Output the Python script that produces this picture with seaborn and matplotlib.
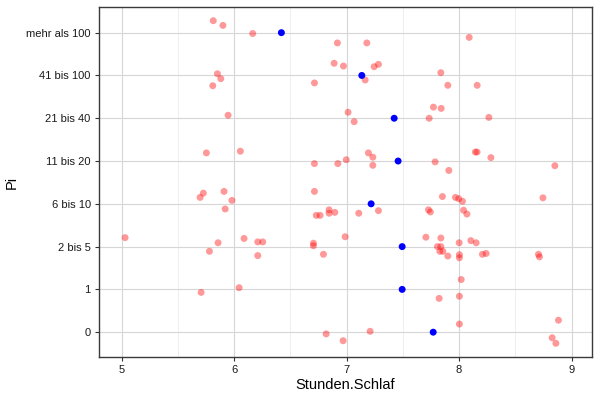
import matplotlib
matplotlib.use("Agg")
import matplotlib.pyplot as plt
from matplotlib.ticker import MultipleLocator
import seaborn as sns
import pandas as pd

categories = ["0", "1", "2 bis 5", "6 bis 10", "11 bis 20", "21 bis 40", "41 bis 100", "mehr als 100"]

schlaf_0 = [6.818, 6.969, 7.209, 8.003, 8.884, 8.828, 8.861]
jit_0 = [-0.04, -0.20, 0.02, 0.19, 0.28, -0.13, -0.26]

schlaf_1 = [5.706, 6.044, 7.823, 8.003, 8.019]
jit_1 = [-0.07, 0.04, -0.21, -0.16, 0.23]

schlaf_2_5 = [5.03, 5.857, 5.78, 6.088, 6.21, 6.254, 6.21, 6.705, 6.705, 6.794, 6.987,
              7.705, 7.838, 7.808, 7.838, 7.829, 7.856, 7.90, 8.001, 8.003, 8.003,
              8.105, 8.152, 8.208, 8.241, 8.706, 8.715]
jit_2_5 = [0.21, 0.09, -0.11, 0.19, 0.11, 0.11, -0.21, 0.08, 0.02, -0.18, 0.23,
           0.22, 0.20, 0.0, 0.0, -0.11, -0.11, -0.22, 0.09, -0.19, -0.26,
           0.14, 0.09, -0.18, -0.16, -0.18, -0.24]

schlaf_6_10 = [5.697, 5.726, 5.91, 5.92, 5.98, 6.714, 6.73, 6.764, 6.844, 6.844, 6.895,
               7.108, 7.283, 7.728, 7.745, 7.852, 7.968, 7.997, 8.03, 8.04, 8.07, 8.746]
jit_6_10 = [0.15, 0.25, 0.29, -0.12, 0.08, 0.29, -0.27, -0.27, -0.14, -0.22, -0.20,
            -0.22, -0.16, -0.14, -0.19, 0.17, 0.15, 0.12, 0.06, -0.15, -0.24, 0.14]

schlaf_11_20 = [5.753, 6.055, 6.714, 6.922, 6.997, 7.194, 7.233, 7.233, 7.787, 7.909,
                8.145, 8.16, 8.283, 8.852]
jit_11_20 = [0.19, 0.23, -0.06, -0.06, 0.03, 0.19, 0.09, -0.10, -0.02, -0.22,
             0.21, 0.21, 0.08, -0.11]

schlaf_21_40 = [5.946, 7.013, 7.067, 7.734, 7.772, 7.841, 8.265]
jit_21_40 = [0.07, 0.14, -0.08, 0.0, 0.26, 0.23, 0.02]

schlaf_41_100 = [5.851, 5.881, 5.81, 6.714, 6.889, 6.972, 7.245, 7.283, 7.165, 7.838, 7.90, 8.161]
jit_41_100 = [0.04, -0.075, -0.24, -0.175, 0.285, 0.22, 0.205, 0.26, -0.105, 0.065, -0.23, -0.23]

schlaf_100p = [5.814, 5.90, 6.165, 6.918, 7.18, 8.09]
jit_100p = [0.28, 0.17, -0.02, -0.24, -0.24, -0.11]

# group means (blue points)
mean_schlaf = [7.77, 7.494, 7.494, 7.218, 7.458, 7.423, 7.135, 6.42]

groups = [(schlaf_0, jit_0), (schlaf_1, jit_1), (schlaf_2_5, jit_2_5), (schlaf_6_10, jit_6_10),
          (schlaf_11_20, jit_11_20), (schlaf_21_40, jit_21_40), (schlaf_41_100, jit_41_100),
          (schlaf_100p, jit_100p)]

rows = []
for i, (xs, js) in enumerate(groups):
    for x, j in zip(xs, js):
        rows.append({"Stunden.Schlaf": x, "Pi": categories[i], "y": i + j})
df = pd.DataFrame(rows)
df_mean = pd.DataFrame({"Stunden.Schlaf": mean_schlaf, "Pi": categories,
                        "y": list(range(len(categories)))})

sns.set_theme(style="white")
plt.rcParams["font.family"] = ["Liberation Sans", "DejaVu Sans"]

fig = plt.figure(figsize=(6, 4), dpi=100)
ax = fig.add_axes([0.165, 0.1075, 0.822, 0.875])

sns.scatterplot(data=df, x="Stunden.Schlaf", y="y", color="red", alpha=0.4,
                s=25, edgecolor="none", ax=ax, zorder=3)
sns.scatterplot(data=df_mean, x="Stunden.Schlaf", y="y", color="blue",
                s=25, edgecolor="none", ax=ax, zorder=4)

ax.set_xlim(4.798, 9.184)
ax.set_ylim(-0.58, 7.6)
ax.set_xticks([5, 6, 7, 8, 9])
ax.xaxis.set_minor_locator(MultipleLocator(0.5))
ax.set_yticks(range(len(categories)))
ax.set_yticklabels(categories)

ax.grid(which="major", color="#d6d6d6", linewidth=0.8, zorder=0)
ax.grid(which="minor", axis="x", color="#ebebeb", linewidth=0.6, zorder=0)
ax.set_axisbelow(True)
for sp in ax.spines.values():
    sp.set_color("#3a3a3a")
    sp.set_linewidth(1.0)

ax.tick_params(axis="both", which="major", length=3, width=0.8, color="#333333",
               labelsize=8, labelcolor="#1a1a1a", pad=3, bottom=True, left=True)
ax.tick_params(axis="x", which="minor", length=0)

ax.set_xlabel("Stunden.Schlaf", fontsize=10.5, color="black", labelpad=2)
ax.set_ylabel("Pi", fontsize=10.5, color="black")
ax.yaxis.set_label_coords(-0.163, 0.5)

fig.savefig("out.png", dpi=100)
